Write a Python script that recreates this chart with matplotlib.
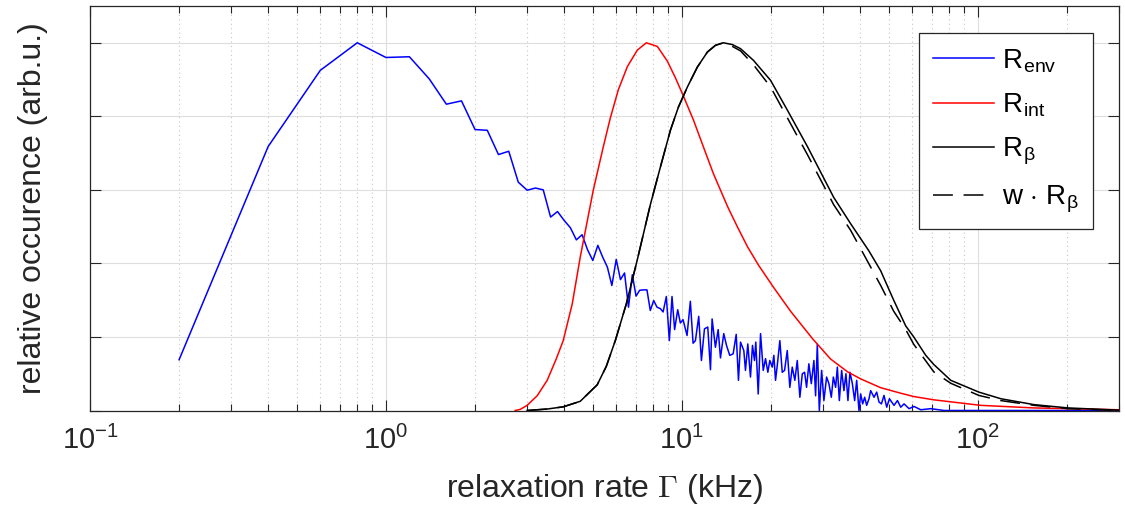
import matplotlib
matplotlib.use('Agg')
import matplotlib.pyplot as plt
from matplotlib.ticker import LogLocator, NullFormatter, NullLocator
import numpy as np

# --- data (relaxation rate in kHz, normalised occurence) ---
env_x = [0.2, 0.4, 0.6, 0.8, 1.0, 1.2, 1.4, 1.6, 1.8, 2.0, 2.2, 2.4, 2.6, 2.8, 3.0,
         3.2, 3.4, 3.6, 3.8, 4.0, 4.2, 4.4, 4.6, 4.8, 5.0, 5.2, 5.4, 5.6, 5.8, 6.0,
         6.2, 6.4, 6.6, 6.8, 7.0, 7.2, 7.4, 7.62, 7.82, 8.03, 8.24, 8.46, 8.64, 8.86,
         9.07, 9.26, 9.45, 9.68, 9.88, 10.09, 10.41, 10.68, 10.91, 11.11, 11.40,
         11.64, 11.92, 12.23, 12.49, 12.65, 12.98, 13.26, 13.50, 13.85, 14.15, 14.51,
         14.90, 15.26, 15.53, 15.78, 16.19, 16.40, 16.70, 17.05, 17.32, 17.59, 17.77,
         18.11, 18.44, 18.83, 19.17, 19.52, 19.82, 20.20, 20.45, 20.72, 21.00, 21.43,
         21.83, 22.23, 22.70, 23.16, 23.60, 24.08, 24.54, 25.04, 25.52, 25.98, 26.38,
         26.86, 27.37, 27.93, 28.30, 28.68, 29.13, 29.66, 30.19, 30.83, 31.39, 31.98,
         32.49, 33.08, 33.52, 34.04, 34.66, 35.28, 35.84, 36.40, 36.97, 37.67, 38.35,
         38.96, 39.66, 40.19, 40.82, 41.46, 42.11, 42.88, 43.44, 44.58, 45.53, 46.35,
         47.23, 48.19, 49.22, 50.26, 52.10, 53.50, 54.89, 56.32, 58.55, 60.88, 64.15,
         69.34, 76.92, 100.0, 300.0]
env_y = [0.138, 0.718, 0.925, 1.000, 0.960, 0.962, 0.902, 0.833, 0.842, 0.764, 0.762,
         0.696, 0.705, 0.621, 0.599, 0.605, 0.600, 0.526, 0.541, 0.517, 0.497, 0.464,
         0.478, 0.437, 0.408, 0.449, 0.417, 0.390, 0.340, 0.411, 0.356, 0.374, 0.281,
         0.369, 0.311, 0.327, 0.328, 0.328, 0.272, 0.299, 0.281, 0.277, 0.268, 0.310,
         0.190, 0.310, 0.220, 0.274, 0.238, 0.247, 0.204, 0.297, 0.183, 0.190, 0.256,
         0.136, 0.222, 0.227, 0.111, 0.249, 0.172, 0.220, 0.143, 0.209, 0.177, 0.150,
         0.154, 0.207, 0.082, 0.186, 0.163, 0.109, 0.181, 0.091, 0.177, 0.136, 0.186,
         0.045, 0.209, 0.109, 0.141, 0.104, 0.136, 0.118, 0.150, 0.082, 0.122, 0.190,
         0.104, 0.109, 0.163, 0.063, 0.118, 0.082, 0.136, 0.036, 0.100, 0.104, 0.063,
         0.127, 0.073, 0.136, 0.040, 0.180, 0.000, 0.109, 0.027, 0.091, 0.073, 0.036,
         0.091, 0.063, 0.118, 0.027, 0.109, 0.054, 0.100, 0.027, 0.104, 0.073, 0.027,
         0.082, 0.000, 0.045, 0.018, 0.036, 0.014, 0.032, 0.054, 0.036, 0.050, 0.023,
         0.018, 0.041, 0.009, 0.032, 0.014, 0.027, 0.009, 0.018, 0.005, 0.011, 0.002,
         0.005, 0.000, 0.000, 0.000]

int_x = [2.733, 2.841, 3.000, 3.243, 3.506, 3.761, 3.972, 4.261, 4.534, 5.018, 5.425,
         5.728, 6.097, 6.541, 7.069, 7.585, 8.263, 8.930, 9.506, 10.12, 10.94, 11.82,
         12.78, 14.26, 15.41, 16.67, 18.16, 20.40, 23.29, 27.65, 31.80, 36.32, 40.19,
         46.96, 54.88, 60.74, 71.00, 102.4, 154.7, 300.0]
int_y = [0.000, 0.003, 0.014, 0.040, 0.082, 0.140, 0.190, 0.290, 0.417, 0.599, 0.717,
         0.795, 0.872, 0.935, 0.980, 1.000, 0.990, 0.950, 0.905, 0.855, 0.790, 0.717,
         0.644, 0.555, 0.499, 0.445, 0.395, 0.335, 0.270, 0.195, 0.140, 0.105, 0.086,
         0.062, 0.047, 0.038, 0.029, 0.014, 0.007, 0.002]

beta_x = [3.000, 3.506, 3.972, 4.534, 5.176, 5.553, 5.956, 6.490, 7.069, 7.825, 8.459,
          9.144, 9.732, 10.44, 11.28, 12.20, 12.98, 13.81, 14.82, 15.78, 17.46, 19.93,
          22.75, 26.59, 32.56, 37.17, 42.77, 46.96, 51.96, 57.06, 60.74, 66.68, 71.00,
          81.04, 100.8, 119.6, 154.7, 201.7, 300.0]
beta_y = [0.000, 0.004, 0.010, 0.025, 0.070, 0.120, 0.190, 0.290, 0.410, 0.560, 0.662,
          0.762, 0.825, 0.880, 0.934, 0.975, 0.993, 1.000, 0.995, 0.984, 0.952, 0.898,
          0.816, 0.717, 0.580, 0.508, 0.435, 0.380, 0.300, 0.230, 0.200, 0.150, 0.125,
          0.082, 0.050, 0.032, 0.016, 0.007, 0.001]
wbeta_y = [0.000, 0.004, 0.010, 0.025, 0.070, 0.120, 0.190, 0.290, 0.410, 0.560, 0.662,
           0.762, 0.825, 0.880, 0.934, 0.975, 0.993, 1.000, 0.990, 0.978, 0.940, 0.880,
           0.795, 0.695, 0.560, 0.490, 0.400, 0.340, 0.270, 0.220, 0.180, 0.135, 0.105,
           0.074, 0.041, 0.027, 0.014, 0.005, 0.000]

plt.rcParams['font.family'] = ['Liberation Sans', 'DejaVu Sans']
plt.rcParams['mathtext.fontset'] = 'cm'

fig = plt.figure(figsize=(11.25, 5.13), dpi=100)
ax = fig.add_axes([0.08, 0.1998, 0.9147, 0.7885])

ax.plot(env_x, env_y, color=(0, 0, 1), lw=1.1, label=r'R$_{\mathdefault{env}}$')
ax.plot(int_x, int_y, color=(1, 0, 0), lw=1.1, label=r'R$_{\mathdefault{int}}$')
ax.plot(beta_x, beta_y, color='black', lw=1.1, label=r'R$_{\mathdefault{β}}$')
ax.plot(beta_x, wbeta_y, color='black', lw=1.1, dashes=(13, 7),
        label=r'w $\cdot$ R$_{\mathdefault{β}}$')

ax.set_xscale('log')
ax.set_xlim(0.1, 300)
ax.set_ylim(0, 1.1)
ax.set_yticks([0, 0.2, 0.4, 0.6, 0.8, 1.0])
ax.set_yticklabels([])
ax.yaxis.set_minor_locator(NullLocator())
ax.xaxis.set_major_locator(LogLocator(base=10))
ax.xaxis.set_minor_locator(LogLocator(base=10, subs=np.arange(2, 10)))
ax.xaxis.set_minor_formatter(NullFormatter())

dark = '#262626'
ax.set_axisbelow(True)
ax.grid(which='major', color='#dedede', lw=0.8)
ax.xaxis.grid(which='minor', color='#c4c4c4', lw=0.8, linestyle=(0, (1, 3)))
ax.tick_params(which='both', direction='in', top=True, right=True, color=dark,
               labelcolor=dark, labelsize=21, width=0.8)
ax.tick_params(which='major', length=8, pad=11)
ax.tick_params(which='minor', length=5)
for s in ax.spines.values():
    s.set_color(dark)
    s.set_linewidth(0.9)

ax.set_xlabel(r'relaxation rate $\Gamma$ (kHz)', fontsize=23, color=dark, labelpad=12)
ax.set_ylabel('relative occurence (arb.u.)', fontsize=23, color=dark, labelpad=19)

leg = ax.legend(loc='upper right', bbox_to_anchor=(0.975, 0.933), fontsize=20,
                handlelength=2.2, handletextpad=0.3, labelspacing=0.6,
                borderpad=0.5, borderaxespad=0, fancybox=False, framealpha=1,
                edgecolor=dark)
leg.get_frame().set_linewidth(0.9)

fig.savefig('out.png', dpi=100)
